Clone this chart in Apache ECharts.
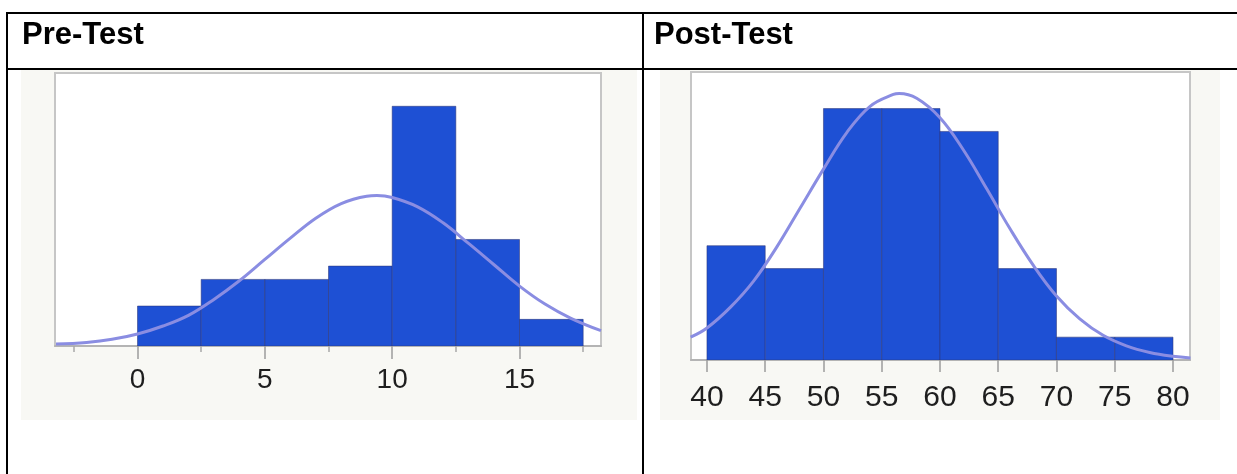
<!DOCTYPE html>
<html>
<head>
<meta charset="utf-8">
<script src="https://cdn.jsdelivr.net/npm/echarts@6/dist/echarts.min.js"></script>
<style>
  html, body { margin: 0; padding: 0; background: #ffffff; }
  #chart { width: 1237px; height: 474px; }
</style>
</head>
<body>
<div id="chart"></div>
<script>
// ---------- data ----------
const titles = ['Pre-Test', 'Post-Test'];

// Pre-Test histogram (bin width 2.5)
const preBinStarts = [0, 2.5, 5, 7.5, 10, 12.5, 15];
const preBinWidth = 2.5;
const preCounts = [3, 5, 5, 6, 18, 8, 2];
const preTickLabels = [0, 5, 10, 15];
const preMinorTicks = [-2.5, 2.5, 7.5, 12.5, 17.5];
// fitted curve
const preCurveX = [-3.2, -2, -1, 0, 1, 2, 3, 4, 5, 6, 7, 8, 9, 9.4, 10, 11, 12, 13, 14, 15, 16, 17, 18.2];
const preCurveY = [0.15, 0.27, 0.5, 0.9, 1.5, 2.3, 3.5, 4.9, 6.5, 8.1, 9.6, 10.7, 11.25, 11.3, 11.15, 10.45, 9.25, 7.7, 6.1, 4.5, 3.15, 2.1, 1.15];

// Post-Test histogram (bin width 5)
const postBinStarts = [40, 45, 50, 55, 60, 65, 70, 75];
const postBinWidth = 5;
const postCounts = [5, 4, 11, 11, 10, 4, 1, 1];
const postTickLabels = [40, 45, 50, 55, 60, 65, 70, 75, 80];
const postCurveX = [38.6, 40, 42, 44, 46, 48, 50, 52, 54, 56, 56.5, 58, 60, 62, 64, 66, 68, 70, 72, 74, 76, 78, 80, 81.5];
const postCurveY = [1.0, 1.4, 2.3, 3.45, 4.95, 6.65, 8.35, 9.95, 11.1, 11.62, 11.66, 11.45, 10.6, 9.2, 7.5, 5.75, 4.15, 2.8, 1.8, 1.08, 0.62, 0.33, 0.16, 0.09];

// ---------- styling ----------
const BAR_COLOR = '#1e50d4';
const CURVE_COLOR = '#8a8de2';
const PANEL_BG = '#f8f8f4';
const LABEL_FONT = '"Liberation Sans Narrow", "Arial Narrow", "Liberation Sans", Arial, sans-serif';

function binData(starts, width, counts) {
  return starts.map((s, i) => [s, s + width, counts[i]]);
}
function pairs(xs, ys) {
  return xs.map((x, i) => [x, ys[i]]);
}
function renderBin(params, api) {
  const topLeft = api.coord([api.value(0), api.value(2)]);
  const bottomRight = api.coord([api.value(1), 0]);
  return {
    type: 'rect',
    shape: {
      x: topLeft[0], y: topLeft[1],
      width: bottomRight[0] - topLeft[0],
      height: bottomRight[1] - topLeft[1]
    },
    style: { fill: BAR_COLOR, stroke: 'rgba(45,55,120,0.55)', lineWidth: 1 }
  };
}

const chart = echarts.init(document.getElementById('chart'), null, { renderer: 'canvas' });

const lineStyleTable = { stroke: '#000', lineWidth: 2 };
const titleStyle = { fontFamily: '"Liberation Sans", Arial, sans-serif', fontWeight: 'bold', fontSize: 31, color: '#000' };

const option = {
  backgroundColor: '#ffffff',
  animation: false,
  title: [
    { text: titles[0], left: 22, top: 20, padding: 0, textStyle: titleStyle },
    { text: titles[1], left: 654, top: 20, padding: 0, textStyle: titleStyle }
  ],
  graphic: [
    { type: 'rect', z: -10, shape: { x: 21, y: 70, width: 616, height: 350 }, style: { fill: PANEL_BG } },
    { type: 'rect', z: -10, shape: { x: 660, y: 70, width: 560, height: 350 }, style: { fill: PANEL_BG } },
    { type: 'line', shape: { x1: 6, y1: 13, x2: 1237, y2: 13 }, style: lineStyleTable },
    { type: 'line', shape: { x1: 6, y1: 69, x2: 1237, y2: 69 }, style: lineStyleTable },
    { type: 'line', shape: { x1: 7, y1: 12, x2: 7, y2: 474 }, style: lineStyleTable },
    { type: 'line', shape: { x1: 643, y1: 12, x2: 643, y2: 474 }, style: lineStyleTable }
  ],
  grid: [
    { left: 55, top: 73, width: 546, height: 273, show: true, backgroundColor: '#ffffff', borderColor: '#c6c6c6', borderWidth: 2 },
    { left: 691, top: 72, width: 499, height: 288, show: true, backgroundColor: '#ffffff', borderColor: '#c6c6c6', borderWidth: 2 }
  ],
  xAxis: [
    { type: 'value', gridIndex: 0, min: -3.24, max: 18.2, position: 'bottom', offset: 0,
      splitLine: { show: false },
      axisLine: { show: true, lineStyle: { color: '#b4b4b4', width: 2 } },
      axisTick: { show: true, customValues: preTickLabels, length: 13, lineStyle: { color: '#9c9c9c', width: 1.5 } },
      axisLabel: { show: true, customValues: preTickLabels, margin: 20, fontSize: 28, fontFamily: LABEL_FONT, color: '#1e1e1e' } },
    { type: 'value', gridIndex: 0, min: -3.24, max: 18.2, position: 'bottom', offset: 0,
      splitLine: { show: false },
      axisLine: { show: false },
      axisTick: { show: true, customValues: preMinorTicks, length: 6, lineStyle: { color: '#a8a8a8', width: 1.5 } },
      axisLabel: { show: false } },
    { type: 'value', gridIndex: 1, min: 38.63, max: 81.46, position: 'bottom', offset: 0,
      splitLine: { show: false },
      axisLine: { show: true, lineStyle: { color: '#b4b4b4', width: 2 } },
      axisTick: { show: true, customValues: postTickLabels, length: 12, lineStyle: { color: '#9c9c9c', width: 1.5 } },
      axisLabel: { show: true, customValues: postTickLabels, margin: 23, fontSize: 30, fontFamily: LABEL_FONT, color: '#1e1e1e' } }
  ],
  yAxis: [
    { type: 'value', gridIndex: 0, min: 0, max: 20.5, show: false, splitLine: { show: false } },
    { type: 'value', gridIndex: 1, min: 0, max: 12.6, show: false, splitLine: { show: false } }
  ],
  series: [
    { type: 'custom', xAxisIndex: 0, yAxisIndex: 0, renderItem: renderBin,
      encode: { x: [0, 1], y: 2 }, data: binData(preBinStarts, preBinWidth, preCounts), clip: true, z: 2 },
    { type: 'line', xAxisIndex: 0, yAxisIndex: 0, data: pairs(preCurveX, preCurveY), smooth: 0.4,
      showSymbol: false, lineStyle: { color: CURVE_COLOR, width: 3 }, z: 3, clip: true },
    { type: 'custom', xAxisIndex: 2, yAxisIndex: 1, renderItem: renderBin,
      encode: { x: [0, 1], y: 2 }, data: binData(postBinStarts, postBinWidth, postCounts), clip: true, z: 2 },
    { type: 'line', xAxisIndex: 2, yAxisIndex: 1, data: pairs(postCurveX, postCurveY), smooth: 0.4,
      showSymbol: false, lineStyle: { color: CURVE_COLOR, width: 3 }, z: 3, clip: true }
  ]
};

chart.setOption(option);
</script>
</body>
</html>
